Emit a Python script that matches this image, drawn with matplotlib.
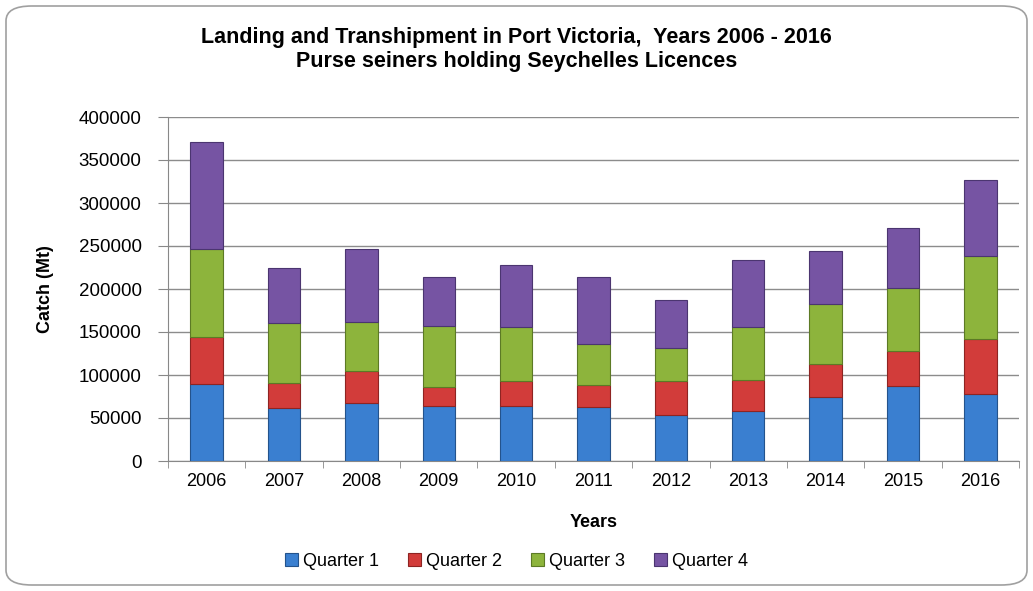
import numpy as np
import matplotlib.pyplot as plt
from matplotlib.patches import FancyBboxPatch

years = ["2006", "2007", "2008", "2009", "2010", "2011", "2012", "2013", "2014", "2015", "2016"]
q1 = [89500, 61600, 67400, 64300, 64300, 62800, 53900, 58100, 74400, 87600, 77900]
q2 = [54700, 29100, 37300, 21700, 28700, 26000, 39100, 36500, 38400, 40700, 63600]
q3 = [102300, 69800, 56900, 71000, 62400, 46900, 38400, 60800, 69800, 72500, 96900]
q4 = [124500, 64300, 85300, 57300, 72900, 78600, 55800, 78300, 61600, 70500, 88300]
series = ["Quarter 1", "Quarter 2", "Quarter 3", "Quarter 4"]

colors = ["#3a7fd0", "#d23c3a", "#8db43c", "#7654a3"]
edges = ["#24538c", "#8e2422", "#5c7a25", "#4b3570"]

plt.rcParams['font.family'] = ['Liberation Sans', 'DejaVu Sans']

fig = plt.figure(figsize=(10.33, 5.91), dpi=100)
ax = fig.add_axes([168/1033, 1-461/591, (1019-168)/1033, (461-117)/591])

# rounded frame around the whole chart
frame = FancyBboxPatch((6/1033, 6/591), 1021/1033, 579/591,
                       boxstyle="round,pad=0,rounding_size=0.025",
                       transform=fig.transFigure, fill=False,
                       edgecolor="#a0a0a0", linewidth=1.2)
fig.patches.append(frame)

x = np.arange(len(years))
w = 0.42
bottom = np.zeros(len(years))
for vals, name, c, ec in zip([q1, q2, q3, q4], series, colors, edges):
    vals = np.array(vals)
    ax.bar(x, vals, w, bottom=bottom, color=c, edgecolor=ec, linewidth=0.8,
           label=name, zorder=3)
    bottom += vals

ax.set_ylim(0, 400000)
ax.set_xlim(-0.5, len(years) - 0.5)
ax.set_yticks(np.arange(0, 400001, 50000))
ax.set_xticks(x)
ax.set_xticklabels(years)
ax.set_xticks(np.arange(-0.5, len(years), 1), minor=True)
ax.tick_params(axis='x', which='major', length=0, pad=9, labelsize=13)
ax.tick_params(axis='x', which='minor', length=5, color="#888888")
ax.tick_params(axis='y', length=7, color="#888888", labelsize=13.5, pad=12)
ax.grid(axis='y', color="#8c8c8c", linewidth=1, zorder=0)
for s in ["top", "right"]:
    ax.spines[s].set_visible(False)
for s in ["left", "bottom"]:
    ax.spines[s].set_color("#888888")

ax.set_xlabel("Years", fontsize=13, fontweight='bold', labelpad=17)
ax.set_ylabel("Catch (Mt)", fontsize=13, fontweight='bold', labelpad=18)

fig.text(0.5, 1-38/591, "Landing and Transhipment in Port Victoria,  Years 2006 - 2016",
         ha='center', va='center', fontsize=15.5, fontweight='bold')
fig.text(0.5, 1-62/591, "Purse seiners holding Seychelles Licences",
         ha='center', va='center', fontsize=15.5, fontweight='bold')

fig.legend(loc='center', bbox_to_anchor=(0.5, 1-561/591), ncol=4, frameon=False,
           fontsize=13, handlelength=0.7, handleheight=0.7, handletextpad=0.3,
           columnspacing=1.6)

fig.savefig("out.png", dpi=100)
